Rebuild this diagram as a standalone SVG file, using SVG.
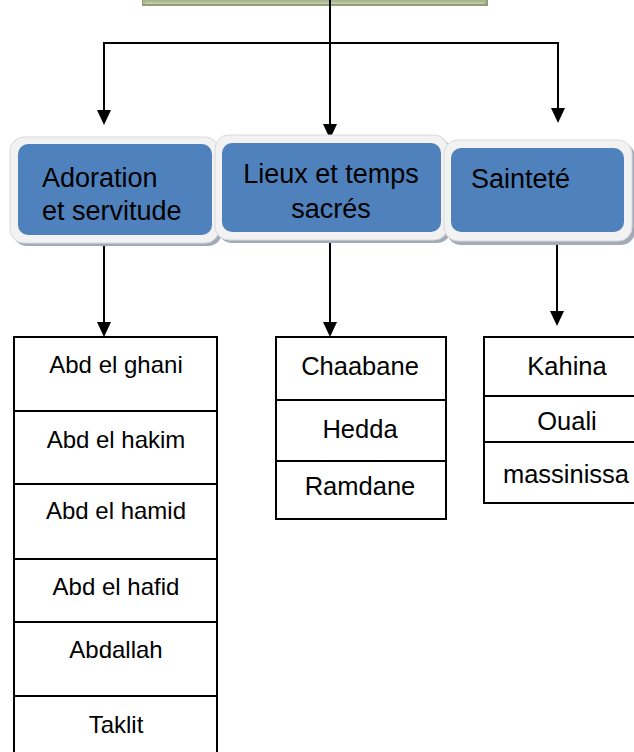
<svg xmlns="http://www.w3.org/2000/svg" width="634" height="752" viewBox="0 0 634 752">
<defs>
<style>
.lbl{font-family:"Liberation Sans",Arial,sans-serif;font-size:27px;fill:#000}
.c1{font-family:"Liberation Sans",Arial,sans-serif;font-size:24px;fill:#000;text-anchor:middle}
.c2{font-family:"Liberation Sans",Arial,sans-serif;font-size:25.5px;fill:#000;text-anchor:middle}
.shadow{fill:#a3abbb}
.frame{fill:#f2f2f2;stroke:#d9d9d9;stroke-width:1}
.blue{fill:#4f81bd}
.cell{fill:#fff;stroke:#000;stroke-width:2}
.conn{fill:none;stroke:#000;stroke-width:2}
</style>
<marker id="arr" viewBox="0 0 14 15" refX="7" refY="15" markerWidth="14" markerHeight="15" markerUnits="userSpaceOnUse" orient="auto-start-reverse">
<path d="M0,0 L14,0 L7,15 Z" fill="#000"/>
</marker>
</defs>
<rect width="634" height="752" fill="#fff"/>

<g id="top">
<rect x="142" y="-20" width="346" height="26" fill="#8fa074"/>
<rect x="143" y="-20" width="343" height="24" fill="#a9b78f"/>
<line x1="145" y1="3" x2="484" y2="3" stroke="#d3dcc2" stroke-width="1"/>
</g>

<g id="connectors">
<line class="conn" x1="330" y1="0" x2="330" y2="124"/>
<path d="M323,124 L337,124 L330,139 Z" fill="#000"/>
<polyline class="conn" points="104,110 104,43 558,43 558,108"/>
<path d="M97,110 L111,110 L104,125 Z" fill="#000"/>
<path d="M551,108 L565,108 L558,123 Z" fill="#000"/>
<line class="conn" x1="104" y1="236" x2="104" y2="322"/>
<path d="M97,322 L111,322 L104,337 Z" fill="#000"/>
<line class="conn" x1="330" y1="233" x2="330" y2="322"/>
<path d="M323,322 L337,322 L330,337 Z" fill="#000"/>
<line class="conn" x1="557" y1="233" x2="557" y2="311"/>
<path d="M550,311 L564,311 L557,326 Z" fill="#000"/>
</g>

<g id="box1">
<rect class="shadow" x="13" y="140" width="209" height="106" rx="14"/>
<rect class="frame" x="10" y="137" width="209" height="106" rx="14"/>
<rect class="blue" x="18" y="144" width="194" height="91" rx="10"/>
<text class="lbl" x="42" y="187">Adoration</text>
<text class="lbl" x="42" y="220">et servitude</text>
</g>

<g id="box2">
<rect class="shadow" x="218" y="138" width="233" height="105" rx="14"/>
<rect class="frame" x="215" y="135" width="233" height="105" rx="14"/>
<rect class="blue" x="222" y="143" width="219" height="89" rx="10"/>
<text class="lbl" x="331" y="183" text-anchor="middle">Lieux et temps</text>
<text class="lbl" x="331" y="218" text-anchor="middle">sacrés</text>
</g>

<g id="box3">
<rect class="shadow" x="447" y="143" width="188" height="102" rx="14"/>
<rect class="frame" x="444" y="140" width="188" height="101" rx="14"/>
<rect class="blue" x="451" y="148" width="173" height="84" rx="10"/>
<text class="lbl" x="471" y="188">Sainteté</text>
</g>

<g id="table1">
<rect class="cell" x="14" y="337" width="203" height="74"/>
<rect class="cell" x="14" y="411" width="203" height="73"/>
<rect class="cell" x="14" y="484" width="203" height="75"/>
<rect class="cell" x="14" y="559" width="203" height="63"/>
<rect class="cell" x="14" y="622" width="203" height="74"/>
<rect class="cell" x="14" y="696" width="203" height="70"/>
<text class="c1" x="116" y="373">Abd el ghani</text>
<text class="c1" x="116" y="448">Abd el hakim</text>
<text class="c1" x="116" y="519">Abd el hamid</text>
<text class="c1" x="116" y="595">Abd el hafid</text>
<text class="c1" x="116" y="658">Abdallah</text>
<text class="c1" x="116" y="733">Taklit</text>
</g>

<g id="table2">
<rect class="cell" x="276" y="337" width="170" height="63"/>
<rect class="cell" x="276" y="400" width="170" height="61"/>
<rect class="cell" x="276" y="461" width="170" height="58"/>
<text class="c2" x="360" y="375">Chaabane</text>
<text class="c2" x="360" y="438">Hedda</text>
<text class="c2" x="360" y="495">Ramdane</text>
</g>

<g id="table3">
<rect class="cell" x="484" y="337" width="166" height="59"/>
<rect class="cell" x="484" y="396" width="166" height="46"/>
<rect class="cell" x="484" y="442" width="166" height="61"/>
<text class="c2" x="567" y="375">Kahina</text>
<text class="c2" x="567" y="430">Ouali</text>
<text class="c2" x="566" y="483">massinissa</text>
</g>
</svg>
